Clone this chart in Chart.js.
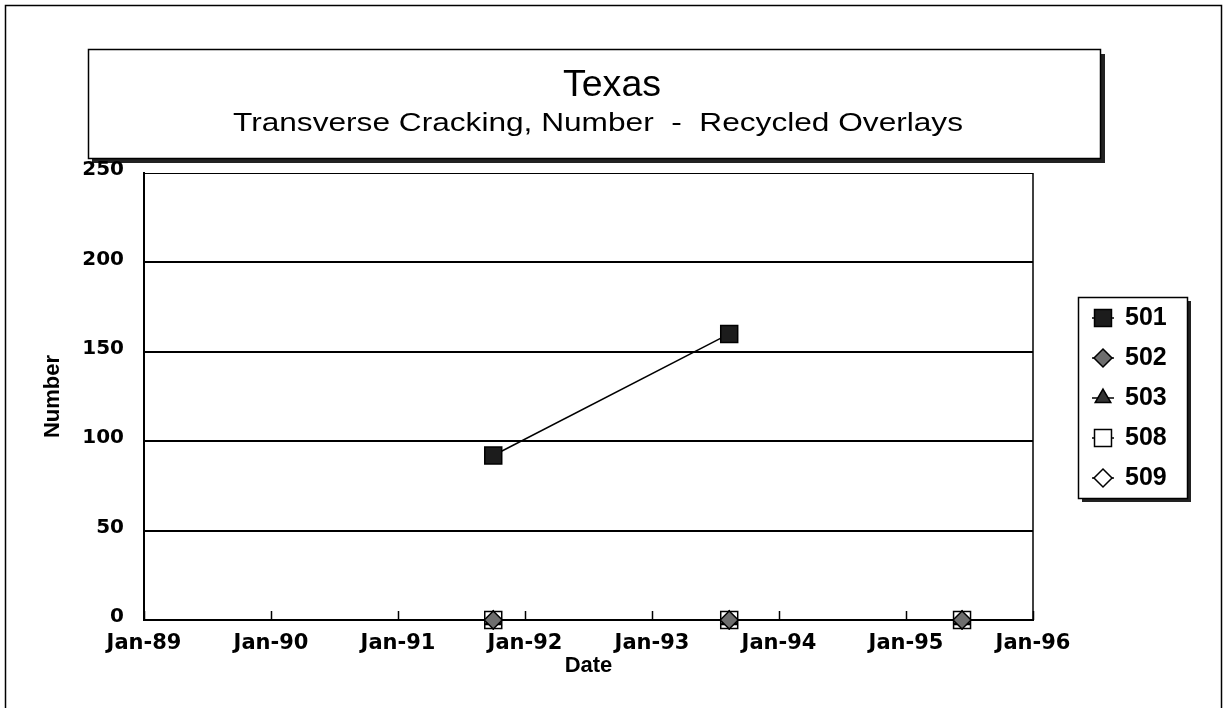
<!DOCTYPE html>
<html><head><meta charset="utf-8">
<script src="https://cdn.jsdelivr.net/npm/chart.js@4.4.1/dist/chart.umd.min.js"></script>
<style>html,body{margin:0;padding:0;background:#fff;overflow:hidden}canvas{display:block}</style>
</head><body>
<div style="width:1224px;height:708px;position:relative"><canvas id="c" width="1224" height="708"></canvas></div>
<script>
// ---- data ----
const chartTitle = 'Texas';
const chartSubtitle = 'Transverse Cracking, Number  -  Recycled Overlays';
const xAxisTitle = 'Date';
const yAxisTitle = 'Number';
const xTickLabels = ['Jan-89','Jan-90','Jan-91','Jan-92','Jan-93','Jan-94','Jan-95','Jan-96'];
const xTickYears = [1989,1990,1991,1992,1993,1994,1995,1996];
const yTicks = [0,50,100,150,200,250];
const seriesNames = ['501','502','503','508','509'];
const surveyDates = ['1991-10-01','1993-08-10','1995-06-10'];
const values501 = [92, 160, null];
const values502 = [0, 0, 0];
const values503 = [0, 0, 0];
const values508 = [0, 0, 0];
const values509 = [0, 0, 0];

// ---- helpers ----
function toYear(s){ const p = s.split('-').map(Number); return p[0] + (p[1]-1)/12 + (p[2]-1)/365; }
function pts(vals){ return surveyDates.map((d,i)=>({x:toYear(d), y:vals[i]})).filter(p=>p.y!==null); }

const styles = [
  {pointStyle:'rect',     radius:12, fill:'#1c1c1c'},
  {pointStyle:'rectRot',  radius:9,  fill:'#6e6e6e'},
  {pointStyle:'triangle', radius:9,  fill:'#333333'},
  {pointStyle:'rect',     radius:12, fill:'#ffffff'},
  {pointStyle:'rectRot',  radius:9,  fill:'#ffffff'}
];
const seriesValues = [values501, values502, values503, values508, values509];

const datasets = seriesNames.map((n,i)=>({
  label:n, data:pts(seriesValues[i]),
  borderColor:'#000', borderWidth:1.5, backgroundColor:styles[i].fill,
  pointStyle:styles[i].pointStyle, pointRadius:styles[i].radius,
  pointBackgroundColor:styles[i].fill, pointBorderColor:'#000', pointBorderWidth:1.5,
  fill:false, tension:0, clip:false
}));

function markerPath(ctx, style, x, y, r){
  ctx.beginPath();
  if(style==='rect'){ const s=Math.SQRT1_2*r; ctx.rect(x-s,y-s,2*s,2*s); }
  else if(style==='rectRot'){ ctx.moveTo(x,y-r); ctx.lineTo(x+r,y); ctx.lineTo(x,y+r); ctx.lineTo(x-r,y); ctx.closePath(); }
  else if(style==='triangle'){ const h=r*Math.sin(Math.PI/3); ctx.moveTo(x,y-r); ctx.lineTo(x+h,y+r/2); ctx.lineTo(x-h,y+r/2); ctx.closePath(); }
}

function stretchText(ctx, text, cx, cy, font, targetW){
  ctx.save();
  ctx.font = font;
  const w = ctx.measureText(text).width;
  const k = targetW ? targetW / w : 1;
  ctx.translate(cx, cy);
  ctx.scale(k, 1);
  ctx.textAlign='center'; ctx.textBaseline='middle'; ctx.fillStyle='#000';
  ctx.fillText(text, 0, 0);
  ctx.restore();
}

const decor = {
  id:'decor',
  beforeDraw(chart){
    const ctx = chart.ctx;
    ctx.save();
    ctx.fillStyle='#fff'; ctx.fillRect(0,0,chart.width,chart.height);
    // outer frame
    ctx.strokeStyle='#000'; ctx.lineWidth=1.5;
    ctx.strokeRect(5.5,5.5,1216,760);
    // title box with shadow
    ctx.fillStyle='#222';
    ctx.fillRect(1100,54,5,109);
    ctx.fillRect(92,158,1013,5);
    ctx.fillStyle='#fff'; ctx.fillRect(88,49,1013,110);
    ctx.strokeStyle='#000'; ctx.lineWidth=1.5;
    ctx.strokeRect(88.5,49.5,1012,109);
    ctx.restore();
    stretchText(ctx, chartTitle, 612, 86, '36px "Liberation Sans", Arial, sans-serif', 98);
    stretchText(ctx, chartSubtitle, 598, 124, '25px "Liberation Sans", Arial, sans-serif', 730);
  },
  afterDraw(chart){
    const ctx = chart.ctx, a = chart.chartArea, xs = chart.scales.x;
    ctx.save();
    ctx.strokeStyle='#000'; ctx.lineWidth=1.5;
    // right frame
    ctx.beginPath(); ctx.moveTo(a.right, a.top); ctx.lineTo(a.right, a.bottom); ctx.stroke();
    // inward tick marks
    xs.ticks.forEach(t=>{
      const px = Math.round(xs.getPixelForValue(t.value))+0.5;
      ctx.beginPath(); ctx.moveTo(px, a.bottom); ctx.lineTo(px, a.bottom-9); ctx.stroke();
    });
    // legend box
    const bx=1078, by=297, bw=109, bh=201;
    ctx.fillStyle='#222';
    ctx.fillRect(bx+bw, by+4, 4, bh);
    ctx.fillRect(bx+4, by+bh, bw, 4);
    ctx.fillStyle='#fff'; ctx.fillRect(bx,by,bw,bh);
    ctx.strokeStyle='#000'; ctx.lineWidth=1.5; ctx.strokeRect(bx+0.5,by+0.5,bw,bh);
    chart.data.datasets.forEach((ds,i)=>{
      const y = 318 + i*40, mx = 1103;
      ctx.strokeStyle='#000'; ctx.lineWidth=1.5;
      ctx.beginPath(); ctx.moveTo(mx-11,y); ctx.lineTo(mx+11,y); ctx.stroke();
      markerPath(ctx, ds.pointStyle, mx, y, ds.pointStyle==='rect' ? 12 : 9);
      ctx.fillStyle = ds.pointBackgroundColor; ctx.fill();
      ctx.stroke();
      ctx.fillStyle='#000'; ctx.font='bold 25px "Liberation Sans", Arial, sans-serif';
      ctx.textAlign='left'; ctx.textBaseline='middle';
      ctx.fillText(ds.label, 1125, y);
    });
    ctx.restore();
  }
};

new Chart(document.getElementById('c'), {
  type:'line',
  data:{datasets},
  plugins:[decor],
  options:{
    responsive:false, animation:false, devicePixelRatio:1,
    layout:{padding:{left:0, top:173, right:191, bottom:0}},
    plugins:{legend:{display:false}, title:{display:false}, tooltip:{enabled:false}},
    scales:{
      x:{
        type:'linear', min:xTickYears[0], max:xTickYears[xTickYears.length-1],
        afterBuildTicks: s => { s.ticks = xTickYears.map(v=>({value:v})); },
        ticks:{callback:(v,i)=>xTickLabels[i], font:{family:'DejaVu Sans', weight:'bold', size:21}, color:'#000', padding:3, maxRotation:0, autoSkip:false},
        grid:{display:false},
        border:{display:true, color:'#000', width:2},
        title:{display:true, text:xAxisTitle, font:{family:'Liberation Sans', weight:'bold', size:22}, color:'#000', padding:{top:0, bottom:29}},
        afterFit: s => { s.height = 88; }
      },
      y:{
        type:'linear', min:yTicks[0], max:yTicks[yTicks.length-1],
        afterBuildTicks: s => { s.ticks = yTicks.map(v=>({value:v})); },
        ticks:{font:{family:'DejaVu Sans', weight:'bold', size:20}, color:'#000', padding:20, labelOffset:-3},
        grid:{color:'#000', lineWidth: c => (c.tick && c.tick.value===250) ? 1 : 2, drawTicks:false},
        border:{display:true, color:'#000', width:2},
        title:{display:true, text:yAxisTitle, font:{family:'Liberation Sans', weight:'bold', size:22}, color:'#000', padding:{top:40, bottom:0}},
        afterFit: s => { s.width = 144; }
      }
    }
  }
});
</script>
</body></html>
